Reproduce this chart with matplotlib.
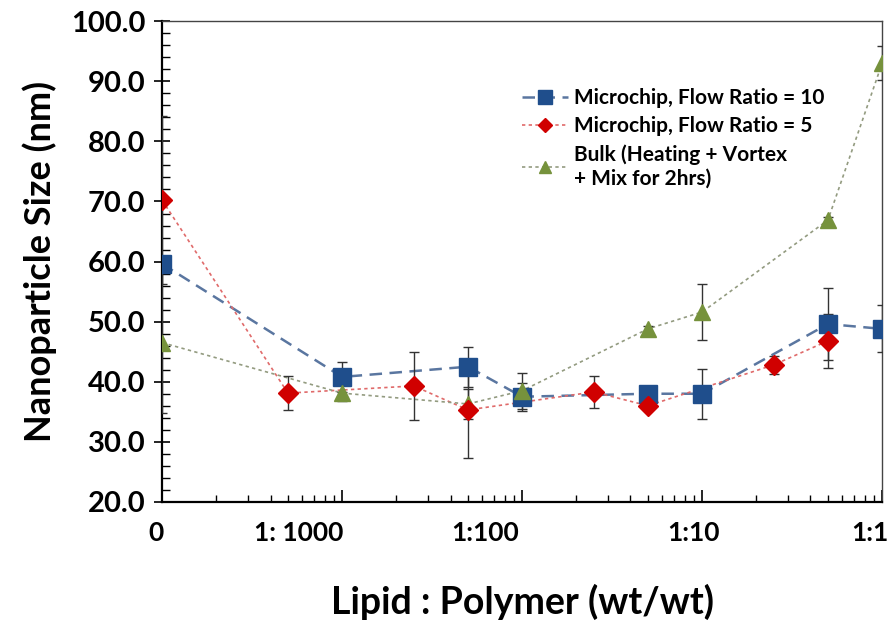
import matplotlib.pyplot as plt
from matplotlib.lines import Line2D
from matplotlib.transforms import ScaledTranslation
from matplotlib.ticker import MultipleLocator, FormatStrFormatter, LogLocator, NullFormatter

plt.rcParams['font.family'] = ['Lato', 'DejaVu Sans']

# Lipid : Polymer ratio (wt/wt); "0" is drawn at 1e-4
x_blue = [1e-4, 0.001, 0.005, 0.01, 0.05, 0.1, 0.5, 1.0]
y_blue = [59.6, 40.8, 42.5, 37.5, 38.0, 38.0, 49.6, 48.8]
e_blue = [0.0, 2.5, 3.3, 2.3, 1.0, 4.2, 6.0, 3.9]

x_red = [1e-4, 0.0005, 0.0025, 0.005, 0.025, 0.05, 0.25, 0.5]
y_red = [70.2, 38.1, 39.3, 35.3, 38.3, 36.0, 42.8, 46.8]
e_red = [14.0, 2.8, 5.7, 8.0, 2.7, 0.6, 1.5, 4.5]

x_green = [1e-4, 0.001, 0.005, 0.01, 0.05, 0.1, 0.5, 1.0]
y_green = [46.5, 38.1, 36.3, 38.5, 48.8, 51.6, 66.9, 93.0]
e_green = [11.7, 1.3, 2.5, 3.0, 0.5, 4.7, 0.5, 2.8]

tick_vals = [1e-4, 1e-3, 1e-2, 1e-1, 1]
tick_labels = ['0', '1: 1000', '1:100', '1:10', '1:1']
label_shift_px = [-6, -43, -37, -9, -12]   # hand-placed labels in the original

fig = plt.figure(figsize=(8.91, 6.25), dpi=100)
ax = fig.add_axes([0.182, 0.197, 0.808, 0.769])

series = [
    (x_blue, y_blue, e_blue, '#1F4E8C', '#5A76A0', 's', 13, (0, (5, 3)), 1.8,
     'Microchip, Flow Ratio = 10'),
    (x_red, y_red, e_red, '#D00000', '#E06A6A', 'D', 10, (0, (2, 2)), 1.2,
     'Microchip, Flow Ratio = 5'),
    (x_green, y_green, e_green, '#76923C', '#939B80', '^', 12, (0, (2, 2)), 1.2,
     'Bulk (Heating + Vortex\n+ Mix for 2hrs)'),
]

handles = []
for xs, ys, es, mc, lc, mk, ms, ls, lw, lab in series:
    ax.plot(xs, ys, color=lc, linestyle=ls, lw=lw, zorder=2)
    ax.errorbar(xs, ys, yerr=es, fmt='none', ecolor='#333333', elinewidth=1,
                capsize=3.5, capthick=1, zorder=3)
    ax.plot(xs, ys, linestyle='none', marker=mk, markersize=ms, color=mc,
            zorder=4 + (1 if mk == 'D' else 0))
    handles.append(Line2D([], [], color=lc, linestyle=ls, lw=lw, marker=mk,
                          markersize=ms * 0.75, markerfacecolor=mc,
                          markeredgecolor=mc, label=lab))

ax.set_xscale('log')
ax.set_xlim(1e-4, 1.0)
ax.set_ylim(20, 100)
ax.set_xticks(tick_vals)
ax.set_xticklabels(tick_labels)
ax.xaxis.set_minor_locator(LogLocator(base=10, subs=range(2, 10)))
ax.xaxis.set_minor_formatter(NullFormatter())
ax.yaxis.set_major_locator(MultipleLocator(10))
ax.yaxis.set_minor_locator(MultipleLocator(2))
ax.yaxis.set_major_formatter(FormatStrFormatter('%.1f'))

ax.tick_params(axis='x', which='major', direction='in', length=9, width=1.2,
               labelsize=19, pad=14)
ax.tick_params(axis='x', which='minor', direction='in', length=5, width=1.0)
ax.tick_params(axis='y', which='major', direction='inout', length=12, width=1.2,
               labelsize=21, pad=6)
ax.tick_params(axis='y', which='minor', direction='in', length=6, width=1.0)
for lab in ax.get_xticklabels() + ax.get_yticklabels():
    lab.set_fontweight('bold')
for lab, dx in zip(ax.get_xticklabels(), label_shift_px):
    lab.set_transform(lab.get_transform() + ScaledTranslation(dx / 100, 0, fig.dpi_scale_trans))

for s in ['left', 'bottom']:
    ax.spines[s].set_linewidth(1.6)
for s in ['top', 'right']:
    ax.spines[s].set_linewidth(1.0)
    ax.spines[s].set_color('#444444')

ax.set_ylabel('Nanoparticle Size (nm)', fontsize=26, fontweight='bold', labelpad=10)
ax.set_xlabel('Lipid : Polymer (wt/wt)', fontsize=27, fontweight='bold', labelpad=28)

ax.legend(handles=handles, loc='upper right', bbox_to_anchor=(0.946, 0.9), frameon=False,
          prop={'size': 15, 'weight': 'bold'}, handlelength=2.2,
          handletextpad=0.3, labelspacing=0.4)

fig.savefig('out.png', dpi=100)
